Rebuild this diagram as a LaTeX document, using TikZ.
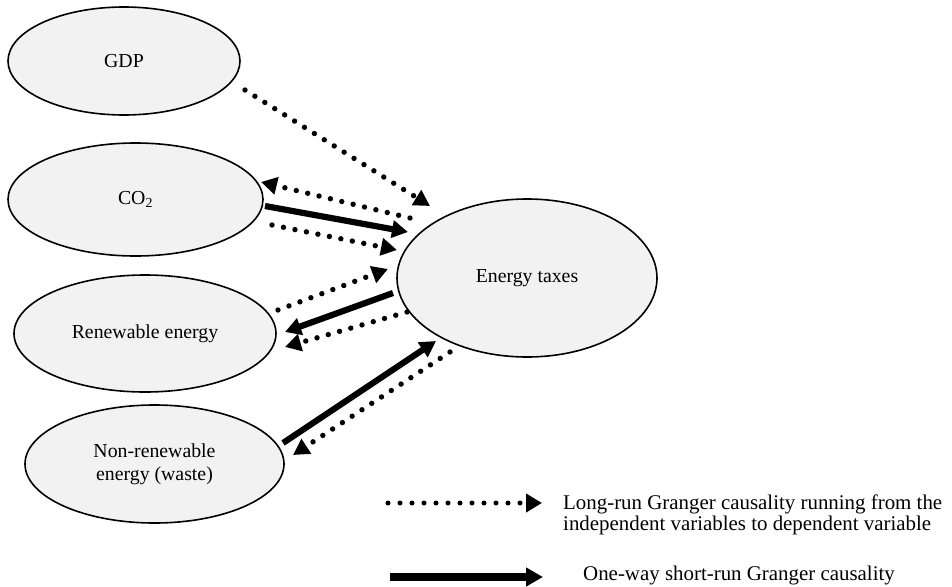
\documentclass[tikz,border=0pt]{standalone}
\usepackage{fontspec}
\setmainfont{Liberation Serif}
\usetikzlibrary{arrows.meta,shapes.geometric,calc}
\definecolor{ellfill}{HTML}{F2F2F2}
\begin{document}
\begin{tikzpicture}[x=1pt,y=-1pt,
  var/.style={ellipse, draw=black, line width=1.6pt, fill=ellfill, inner sep=0pt,
    align=center, font=\fontsize{19.8}{23}\selectfont},
  dotarrow/.style={line width=5.4pt, line cap=round, dash pattern=on 0pt off 11.7pt,
    -{Triangle[length=16pt,width=17pt]}},
  solidarrow/.style={line width=6.2pt, -{Triangle[length=16pt,width=17pt]}},
  legdot/.style={line width=5pt, line cap=round, dash pattern=on 0pt off 12pt,
    -{Triangle[length=16pt,width=18pt]}},
  legsolid/.style={line width=7.5pt, -{Triangle[length=17pt,width=18pt]}},
  legtext/.style={anchor=west, inner sep=0pt, align=left, font=\fontsize{20.9}{21.5}\selectfont}
]
\useasboundingbox (0,0) rectangle (952,586);

% variables
\node[var, minimum width=232pt, minimum height=108pt] (gdp) at (124,61) {GDP};
\node[var, minimum width=255pt, minimum height=113pt] (co2) at (135.5,199.5) {CO\textsubscript{2}};
\node[var, minimum width=262pt, minimum height=117pt] (ren) at (145,333.5) {Renewable energy};
\node[var, minimum width=259pt, minimum height=118pt] (non) at (154.5,464) {Non-renewable\\energy (waste)};
\node[var, minimum width=260pt, minimum height=158pt] (et) at (527,278) {Energy taxes};

% connectors
\draw[dotarrow] ($(gdp.center)+(121,29)$) -- ($(et.center)+(-97,-72)$);
\draw[dotarrow] ($(et.center)+(-117,-60)$) -- ($(co2.center)+(125.5,-17.5)$);
\draw[solidarrow] ($(co2.center)+(129.5,6.5)$) -- ($(et.center)+(-119,-46)$);
\draw[dotarrow] ($(co2.center)+(136.5,25.5)$) -- ($(et.center)+(-130,-28)$);
\draw[dotarrow] ($(ren.center)+(133,-23.5)$) -- ($(et.center)+(-139,-9)$);
\draw[solidarrow] ($(et.center)+(-134,15)$) -- ($(ren.center)+(140,-1.5)$);
\draw[dotarrow] ($(et.center)+(-120,34)$) -- ($(ren.center)+(140,13.5)$);
\draw[solidarrow] ($(non.center)+(128.5,-21)$) -- ($(et.center)+(-91,63)$);
\draw[dotarrow] ($(et.center)+(-77,74)$) -- ($(non.center)+(138.5,-9)$);

% legend
\coordinate (l1a) at (388,503);
\coordinate (l1b) at (542,503);
\coordinate (l2a) at (390,577);
\coordinate (l2b) at (543,577);
\draw[legdot] (l1a) -- (l1b);
\draw[legsolid] (l2a) -- (l2b);
\node[legtext] (t1) at (563,515) {Long-run Granger causality running from the\\independent variables to dependent variable};
\node[legtext] (t2) at (583,575) {One-way short-run Granger causality};
\end{tikzpicture}
\end{document}
